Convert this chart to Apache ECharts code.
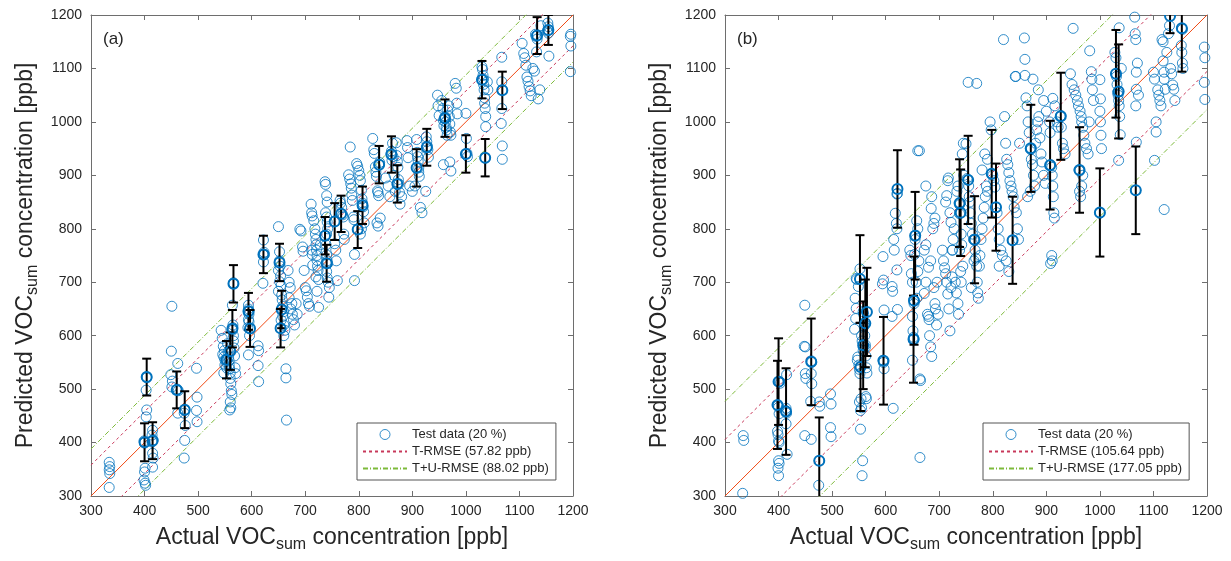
<!DOCTYPE html>
<html>
<head>
<meta charset="utf-8">
<script src="https://cdn.jsdelivr.net/npm/echarts@6.0.0/dist/echarts.min.js"></script>
<style>
html, body { margin: 0; padding: 0; background: #fff; }
#main { width: 1231px; height: 561px; }
</style>
</head>
<body>
<div id="main"></div>
<script>
var axisMin = 300, axisMax = 1200, axisStep = 100;

// panel (a)
var rmseA = 57.82, totalA = 88.02;
var pointsA = [
  [334,363],[335,355],[334,349],[335,342],[334,316],
  [399,403],[400,399],[401,352],[400,345],[399,330],[401,324],[402,320],[403,448],[404,461],[403,498],[404,523],[404,521],
  [415,423],[414,414],[416,405],[415,380],[416,371],[415,354],[414,401],
  [451,655],[450,571],[449,527],[452,515],[451,504],
  [462,548],[461,500],[463,497],[462,455],
  [475,460],[474,455],[476,432],[475,404],[474,371],
  [497,539],[498,485],[497,460],[498,439],
  [543,610],[545,595],[547,580],[549,572],[546,565],[548,560],[550,555],[552,551],[550,545],[553,540],[548,530],
  [555,585],[556,570],[557,560],[558,553],[558,545],[559,538],[560,530],[560,520],[561,510],[562,497],[560,476],
  [561,465],[559,461],[563,490],[564,610],[565,620],[565,615],[566,600],[566,590],[566,697],[566,699],[564,657],
  [567,577],[568,562],[569,540],[570,529],
  [594,657],[594,650],[595,645],[595,640],[594,630],[595,626],[593,615],[594,564],[596,600],
  [612,581],[613,572],[612,544],[613,514],
  [622,779],[623,756],[622,751],[622,738],[621,698],[624,752],
  [650,804],[652,757],[652,740],[653,730],[650,722],[654,712],[652,701],[655,694],[650,683],[656,676],[657,667],
  [658,655],[660,645],[658,636],[655,629],[660,620],[662,610],[660,600],[664,538],[664,521],[665,442],[668,722],
  [670,700],[672,690],[670,671],[675,660],[673,650],[676,640],[678,630],[680,620],[683,660],[685,640],
  [690,799],[692,796],[695,766],[696,758],[698,722],[700,690],[702,684],[704,672],[706,660],[708,655],[711,846],
  [712,830],[713,824],[712,760],[713,752],[714,732],[716,815],[718,800],[719,790],[720,780],[720,770],[721,760],
  [722,750],[722,741],[723,730],[724,722],[725,705],[720,710],[722,683],[725,653],[728,770],
  [737,888],[738,883],[740,862],[741,850],[738,830],[740,822],[741,813],[742,800],[740,790],[739,770],[740,751],
  [741,740],[742,735],[740,720],[741,708],[743,700],[745,690],[744,672],
  [755,772],[757,760],[758,740],[760,703],[765,853],[766,848],[768,840],[770,826],[771,822],[772,790],[773,780],
  [781,901],[783,893],[785,884],[786,876],[787,863],[788,853],[790,822],[791,817],[784,953],[792,752],[792,703],
  [796,922],[798,917],[800,909],[802,900],[803,890],[805,872],[806,856],[807,848],[808,841],[809,832],[810,811],
  [805,800],[803,790],
  [826,969],[828,948],[829,941],[831,916],[832,906],[833,898],[835,871],[836,868],[837,862],[838,920],[839,924],
  [834,811],[836,805],[840,820],
  [850,895],[855,880],[858,860],[860,940],[861,945],[862,928],[863,960],[864,935],[866,900],[868,870],[870,961],
  [871,937],[872,926],[873,915],[874,892],[875,884],[876,868],[877,846],[880,860],
  [890,965],[891,952],[892,933],[895,880],[900,870],[905,880],[908,967],[909,943],[910,935],[911,926],[912,914],
  [912,906],[913,898],[915,840],[918,830],[926,972],[927,963],[928,955],[929,948],[930,934],[925,870],
  [947,1050],[948,1030],[950,1012],[955,1040],[957,1025],[958,1003],[959,993],[960,1007],[961,1010],[962,1000],
  [963,990],[964,985],[965,975],[958,920],[966,1022],[968,1030],[969,1010],[970,996],[971,981],[972,975],[970,925],
  [972,908],[980,1072],[982,1063],[983,1035],[984,1015],
  [1000,1016],[1001,969],[1002,941],[1003,935],
  [1030,1103],[1031,1098],[1032,1087],[1033,1080],[1033,1070],[1034,1060],[1035,1045],[1035,1035],[1036,1025],
  [1037,1010],[1037,991],[1036,932],[1040,1075],[1041,1060],
  [1067,1121],[1067,1075],[1068,1060],[1067,1025],[1066,997],[1068,955],[1068,930],
  [1105,1147],[1108,1128],[1110,1120],[1112,1106],[1114,1084],[1116,1076],[1118,1066],[1120,1058],[1122,1049],
  [1125,1100],[1128,1095],[1130,1164],[1131,1160],[1132,1131],[1133,1155],[1135,1043],[1138,1060],[1140,1180],
  [1153,1185],[1154,1178],[1154,1166],[1155,1123],[1152,1170],
  [1196,1164],[1195,1160],[1196,1142],[1195,1094]
];
// [x, low, high]
var barsA = [
  [400,365,436],[404,488,557],[415,369,438],[460,464,533],[475,427,496],[553,520,590],[560,536,606],
  [564,578,648],[566,662,732],[594,611,680],[597,579,648],[622,717,787],[652,702,772],[656,614,684],
  [654,578,650],[737,752,822],[740,701,770],[755,779,848],[767,794,862],[798,764,833],[807,809,879],
  [838,885,955],[861,905,973],[872,849,919],[908,879,949],[927,918,987],[961,972,1042],[1000,905,975],
  [1030,1044,1114],[1036,898,968],[1068,1024,1094],[1133,1127,1196],[1154,1144,1200]
];

// panel (b)
var rmseB = 105.64, totalB = 177.05;
var pointsB = [
  [334,413],[335,404],[333,305],
  [399,469],[400,466],[401,454],[398,421],[399,415],[400,366],[401,361],[399,352],[400,338],[402,514],[403,511],
  [400,403],[401,400],
  [414,464],[415,455],[414,435],[416,378],[415,527],[413,460],
  [449,657],[450,579],[450,529],[451,520],[449,413],[448,580],
  [461,553],[462,550],[461,529],[462,510],[460,477],[461,406],
  [476,476],[477,468],[476,366],[475,320],
  [497,491],[498,472],[497,428],[498,411],
  [545,707],[546,705],[543,670],[545,651],[544,632],[542,612],[548,560],[547,554],[550,545],[551,537],[552,529],
  [551,476],[553,460],[555,465],[554,482],[553,425],[557,366],[556,338],[558,645],[559,640],[560,622],[560,618],
  [561,600],[562,583],[562,578],[563,562],[564,540],[565,530],[563,486],[564,482],[549,692],[552,725],[555,600],
  [556,590],[558,572],
  [595,748],[596,704],[597,648],[595,554],[596,550],[597,538],[594,697],
  [612,692],[613,683],[612,636],[614,464],[621,723],[622,649],[621,865],[622,866],[620,810],[621,800],[618,829],
  [615,780],[616,760],
  [645,760],[647,750],[648,716],[650,700],[652,667],[653,660],[650,636],[651,609],[652,597],[653,594],[650,554],
  [664,372],[664,519],[665,516],[660,946],[663,946],[655,780],[656,788],[654,752],[657,700],[658,670],[660,720],
  [662,740],[658,815],[660,800],
  [672,679],[675,700],[678,640],[680,636],[681,630],[682,600],[684,579],[686,561],[690,690],[692,660],[693,650],
  [695,620],[696,700],[698,640],[672,760],[675,770],[680,728],[684,740],[688,800],[690,810],[692,820],[685,838],
  [686,860],[675,880],
  [706,760],[708,740],[710,727],[712,716],[714,700],[716,678],[718,650],[720,609],[722,690],[724,710],[725,760],
  [726,780],[728,800],[712,850],[714,862],[716,890],[717,895],[720,830],[722,812],[724,760],[730,700],[732,680],
  [735,660],[736,640],[738,845],[739,848],[738,828],[740,830],[741,790],[742,770],[738,760],[740,720],[741,700],
  [744,730],[745,960],[743,940],[746,900],[735,880],[733,870],
  [750,959],[752,894],[754,891],[755,880],[756,860],[757,850],[758,830],[760,810],[762,790],[764,780],[766,780],
  [767,760],[768,745],[770,730],[771,700],[772,680],[773,670],[775,730],[776,750],[778,780],[780,800],[782,820],
  [784,840],[786,860],[788,880],[790,870],[765,740],[760,690],[770,1072],[754,1074],[780,910],[785,940],[790,930],
  [795,1000],[797,985],[798,903],[800,900],[802,890],[804,878],[806,840],[808,830],[810,800],[812,780],[815,760],
  [818,750],[820,1154],[822,1010],[824,960],[826,930],[828,920],[830,905],[832,890],[834,880],[836,870],[837,778],
  [838,860],[840,840],[842,1085],[843,1085],[844,830],[846,800],[848,780],[850,960],[830,720],[825,740],[812,730],
  [859,1157],[860,1117],[860,1087],[862,1045],[864,1030],[866,1000],[868,980],[870,950],[871,948],[872,930],
  [874,920],[876,900],[878,880],[880,960],[882,985],[884,1000],[886,1010],[888,970],[890,940],[892,925],[895,900],
  [898,885],[870,870],[865,860],[875,1080],[885,1060],[895,1040],[900,1020],
  [906,1000],[907,980],[908,920],[910,915],[911,900],[912,880],[913,860],[914,830],[915,820],[912,1044],[916,1030],
  [920,1000],[922,990],[926,1010],[927,1012],[928,990],[930,960],[932,950],[935,940],[910,750],[911,740],[908,735],
  [950,1175],[945,1090],[948,1070],[952,1060],[955,1050],[958,1040],[960,1030],[961,910],[962,908],[963,1020],
  [965,1010],[966,1000],[968,990],[970,975],[972,960],[975,950],[978,940],[980,1000],[981,1133],[984,1094],
  [985,1080],[986,1060],[988,1040],[962,870],[964,860],[966,880],[968,900],
  [1000,1079],[1001,1043],[1000,1020],[1001,1000],[1002,975],[1000,829],[1003,950],
  [1028,1130],[1030,1090],[1031,1085],[1032,1070],[1033,1055],[1034,1050],[1035,1040],[1036,1030],[1036,1176],
  [1037,1010],[1038,976],[1035,928],[1030,1120],[1040,1100],
  [1065,1196],[1066,1165],[1067,1154],[1068,1093],[1068,1061],[1067,1030],[1068,962],[1067,872],[1070,1110],
  [1072,1050],
  [1100,1093],[1102,1080],[1105,1000],[1105,981],[1102,928],[1108,1060],[1110,1050],[1112,1040],[1114,1030],
  [1116,1154],[1118,1150],[1118,1114],[1120,1093],[1120,1080],[1120,836],[1122,1061],[1125,1130],[1128,1165],
  [1130,1180],[1132,1100],[1134,1090],[1136,1069],[1138,1061],[1140,1040],
  [1153,1175],[1154,1173],[1152,1143],[1153,1130],[1154,1110],[1155,1100],
  [1195,1140],[1196,1120],[1195,1074],[1196,1042]
];
var barsB = [
  [400,433,595],[398,388,553],[414,377,539],[461,470,632],[476,285,447],[552,624,788],[553,459,624],
  [558,500,664],[562,541,705],[565,562,727],[596,471,635],[622,802,947],[652,512,675],[653,583,748],
  [655,705,869],[738,766,930],[740,749,911],[754,809,974],[766,698,861],[798,821,985],[806,759,922],
  [837,697,860],[871,869,1032],[907,836,1002],[927,929,1092],[962,830,990],[1000,748,913],[1030,1008,1172],
  [1035,969,1145],[1067,790,954],[1131,1166,1230],[1153,1094,1256]
];

var dom = document.getElementById('main');
var chart = echarts.init(dom);
var font = '"Liberation Sans", Arial, Helvetica, sans-serif';
var blue = '#0072BD';
var frame = '#6e6e6e';
var textCol = '#262626';

function diag(offset) {
  return [[axisMin, axisMin + offset], [axisMax, axisMax + offset]];
}
// two parallel lines (above and below y=x) in one series, broken by a gap
function band(offset) {
  return diag(offset).concat([['-', '-']], diag(-offset));
}

var nameRich = {
  n: { fontSize: 23, fontFamily: font, color: textCol },
  s: { fontSize: 16, fontFamily: font, color: textCol, padding: [14, 0, 0, 0] }
};

function plain(v) { return String(v); }

function xAxes(g) {
  return [{
    gridIndex: g, type: 'value', position: 'bottom',
    min: axisMin, max: axisMax, interval: axisStep,
    axisLine: { lineStyle: { color: frame, width: 1 } },
    axisTick: { inside: true, length: 5, lineStyle: { color: frame } },
    axisLabel: { fontSize: 14, color: textCol, fontFamily: font, margin: 8, formatter: plain },
    splitLine: { show: false },
    name: '{n|Actual VOC}{s|sum}{n| concentration [ppb]}',
    nameLocation: 'middle', nameGap: 27,
    nameTextStyle: { rich: nameRich }
  }, {
    gridIndex: g, type: 'value', position: 'top',
    min: axisMin, max: axisMax, interval: axisStep,
    axisLine: { lineStyle: { color: frame, width: 1 } },
    axisTick: { inside: true, length: 5, lineStyle: { color: frame } },
    axisLabel: { show: false },
    splitLine: { show: false }
  }];
}

function yAxes(g) {
  return [{
    gridIndex: g, type: 'value', position: 'left',
    min: axisMin, max: axisMax, interval: axisStep,
    axisLine: { lineStyle: { color: frame, width: 1 } },
    axisTick: { inside: true, length: 5, lineStyle: { color: frame } },
    axisLabel: { fontSize: 14, color: textCol, fontFamily: font, margin: 9, formatter: plain },
    splitLine: { show: false },
    name: '{n|Predicted VOC}{s|sum}{n| concentration [ppb]}',
    nameLocation: 'middle', nameGap: 50,
    nameTextStyle: { rich: nameRich }
  }, {
    gridIndex: g, type: 'value', position: 'right',
    min: axisMin, max: axisMax, interval: axisStep,
    axisLine: { lineStyle: { color: frame, width: 1 } },
    axisTick: { inside: true, length: 5, lineStyle: { color: frame } },
    axisLabel: { show: false },
    splitLine: { show: false }
  }];
}

function lineSeries(name, data, ax, color, type) {
  return {
    name: name, type: 'line', xAxisIndex: ax, yAxisIndex: ax,
    data: data, symbol: 'none', silent: true, clip: true, z: 2,
    connectNulls: false,
    lineStyle: { color: color, width: 1, type: type },
    itemStyle: { color: color }
  };
}

function scatterSeries(data, ax) {
  return {
    name: 'Test data (20 %)', type: 'scatter', xAxisIndex: ax, yAxisIndex: ax,
    data: data, symbol: 'circle', symbolSize: 10, clip: true, z: 3,
    itemStyle: { color: 'rgba(0,0,0,0)', borderColor: blue, borderWidth: 1 }
  };
}

function errorSeries(data, ax) {
  return {
    type: 'custom', xAxisIndex: ax, yAxisIndex: ax, clip: true, z: 4, silent: true,
    encode: { x: 0, y: [1, 2] },
    data: data,
    renderItem: function (params, api) {
      var x = api.value(0);
      var lo = api.coord([x, api.value(1)]);
      var hi = api.coord([x, api.value(2)]);
      var mid = api.coord([x, (api.value(1) + api.value(2)) / 2]);
      var w = 4.5;
      var st = { stroke: '#000', lineWidth: 2 };
      return {
        type: 'group',
        children: [
          { type: 'line', shape: { x1: hi[0], y1: hi[1], x2: lo[0], y2: lo[1] }, style: st },
          { type: 'line', shape: { x1: hi[0] - w, y1: hi[1], x2: hi[0] + w, y2: hi[1] }, style: st },
          { type: 'line', shape: { x1: lo[0] - w, y1: lo[1], x2: lo[0] + w, y2: lo[1] }, style: st },
          { type: 'circle', shape: { cx: mid[0], cy: mid[1], r: 5 },
            style: { fill: 'none', stroke: blue, lineWidth: 2 } }
        ]
      };
    }
  };
}

var nameTA = 'T-RMSE (' + rmseA.toFixed(2) + ' ppb)';
var nameUA = 'T+U-RMSE (' + totalA.toFixed(2) + ' ppb)';
var nameTB = 'T-RMSE (' + rmseB.toFixed(2) + ' ppb)';
var nameUB = 'T+U-RMSE (' + totalB.toFixed(2) + ' ppb)';
var lineRed = '#F04A14', lineT = '#C8385A', lineU = '#7DBA3A';
var dashT = [3, 3], dashU = [5, 2, 1, 2];

function legendBox(left, names) {
  return {
    left: left, top: 423, orient: 'vertical',
    itemWidth: 44, itemHeight: 10, itemGap: 4,
    padding: [5, 7, 5, 5],
    borderColor: '#555', borderWidth: 1, backgroundColor: '#fff',
    selectedMode: false,
    textStyle: { fontSize: 13, color: textCol, fontFamily: font },
    data: [
      { name: names[0], itemStyle: { borderWidth: 1 } },
      { name: names[1], itemStyle: { opacity: 0 } },
      { name: names[2], itemStyle: { opacity: 0 } }
    ]
  };
}

var option = {
  animation: false,
  backgroundColor: '#fff',
  grid: [
    { left: 91, top: 15, width: 482, height: 481 },
    { left: 725, top: 15, width: 482, height: 481 }
  ],
  xAxis: xAxes(0).concat(xAxes(1)),
  yAxis: yAxes(0).concat(yAxes(1)),
  legend: [
    legendBox(357, ['Test data (20 %)', nameTA, nameUA]),
    legendBox(983, ['Test data (20 %)', nameTB, nameUB])
  ],
  graphic: [
    { type: 'text', left: 103, top: 31, style: { text: '(a)', fontSize: 17, fontFamily: font, fill: textCol } },
    { type: 'text', left: 737, top: 31, style: { text: '(b)', fontSize: 17, fontFamily: font, fill: textCol } }
  ],
  series: [
    lineSeries('y=x a', diag(0), 0, lineRed, 'solid'),
    lineSeries(nameTA, band(rmseA), 0, lineT, dashT),
    lineSeries(nameUA, band(totalA), 0, lineU, dashU),
    scatterSeries(pointsA, 0),
    errorSeries(barsA, 0),
    lineSeries('y=x b', diag(0), 2, lineRed, 'solid'),
    lineSeries(nameTB, band(rmseB), 2, lineT, dashT),
    lineSeries(nameUB, band(totalB), 2, lineU, dashU),
    scatterSeries(pointsB, 2),
    errorSeries(barsB, 2)
  ]
};

chart.setOption(option);
</script>
</body>
</html>
